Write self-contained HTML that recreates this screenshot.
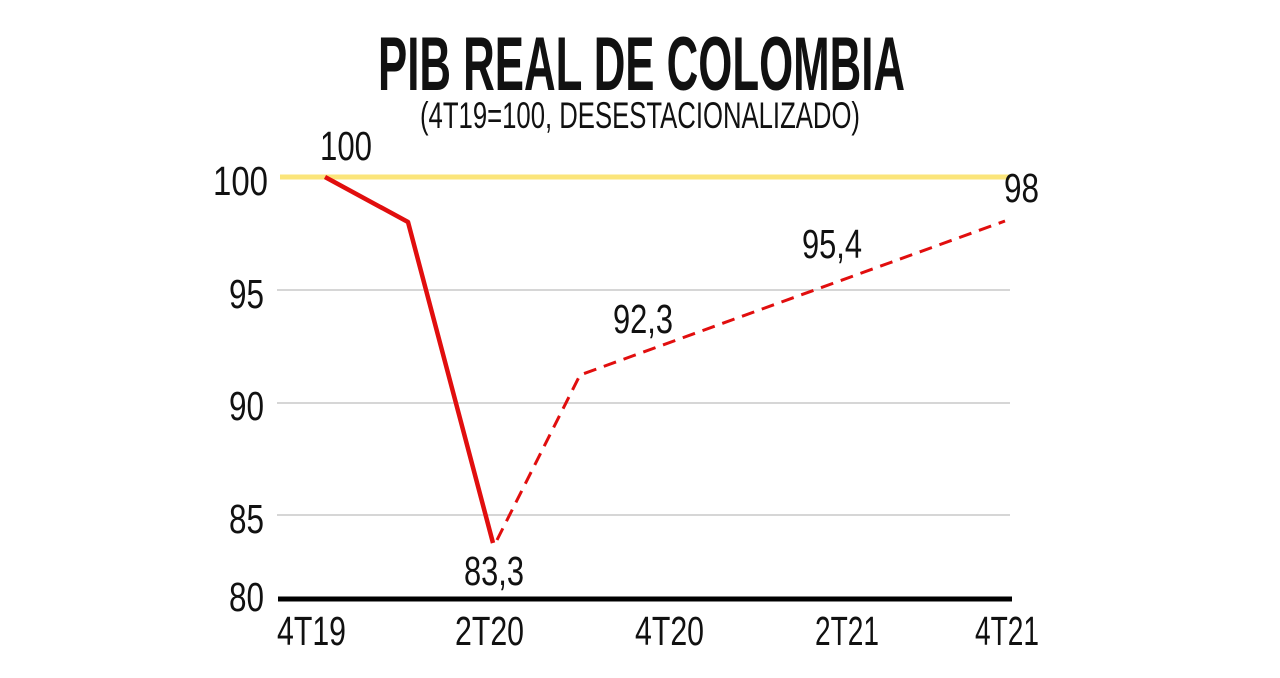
<!DOCTYPE html>
<html><head><meta charset="utf-8"><style>html,body{margin:0;padding:0;background:#fff}svg{display:block}text{font-family:"Liberation Sans Narrow","Liberation Sans",sans-serif;fill:#111}</style></head>
<body>
<svg width="1280" height="678" viewBox="0 0 1280 678" xmlns="http://www.w3.org/2000/svg">
<rect width="1280" height="678" fill="#fff"/>
<text x="378" y="90" font-size="76" font-weight="bold" textLength="527" lengthAdjust="spacingAndGlyphs">PIB REAL DE COLOMBIA</text>
<text x="420" y="128" font-size="37" textLength="440" lengthAdjust="spacingAndGlyphs">(4T19=100, DESESTACIONALIZADO)</text>
<g stroke="#c8c8c8" stroke-width="1.5">
<line x1="277" y1="290" x2="1010" y2="290"/>
<line x1="277" y1="403" x2="1010" y2="403"/>
<line x1="277" y1="515" x2="1010" y2="515"/>
</g>
<line x1="280" y1="177" x2="1010" y2="177" stroke="#fbe57a" stroke-width="5"/>
<line x1="278" y1="599" x2="1012" y2="599" stroke="#000" stroke-width="5"/>
<polyline points="325,177 408,222 493,543" fill="none" stroke="#e10e0e" stroke-width="4.5" stroke-linejoin="round"/>
<polyline points="497,540 580,375 1005,221" fill="none" stroke="#e10e0e" stroke-width="3" stroke-dasharray="13 8"/>
<g font-size="41">
<text x="268" y="195" text-anchor="end" textLength="55" lengthAdjust="spacingAndGlyphs">100</text>
<text x="264" y="308" text-anchor="end" textLength="35" lengthAdjust="spacingAndGlyphs">95</text>
<text x="264" y="420" text-anchor="end" textLength="35" lengthAdjust="spacingAndGlyphs">90</text>
<text x="264" y="533" text-anchor="end" textLength="35" lengthAdjust="spacingAndGlyphs">85</text>
<text x="264" y="611" text-anchor="end" textLength="35" lengthAdjust="spacingAndGlyphs">80</text>
<text x="277" y="645" textLength="69" lengthAdjust="spacingAndGlyphs">4T19</text>
<text x="455" y="645" textLength="69" lengthAdjust="spacingAndGlyphs">2T20</text>
<text x="635" y="645" textLength="69" lengthAdjust="spacingAndGlyphs">4T20</text>
<text x="815" y="645" textLength="64" lengthAdjust="spacingAndGlyphs">2T21</text>
<text x="975" y="645" textLength="64" lengthAdjust="spacingAndGlyphs">4T21</text>
<text x="320" y="160" textLength="52" lengthAdjust="spacingAndGlyphs">100</text>
<text x="1004" y="202" textLength="35" lengthAdjust="spacingAndGlyphs">98</text>
<text x="802" y="258" textLength="60" lengthAdjust="spacingAndGlyphs">95,4</text>
<text x="613" y="333" textLength="60" lengthAdjust="spacingAndGlyphs">92,3</text>
<text x="464" y="585" textLength="60" lengthAdjust="spacingAndGlyphs">83,3</text>
</g>
</svg>
</body></html>
